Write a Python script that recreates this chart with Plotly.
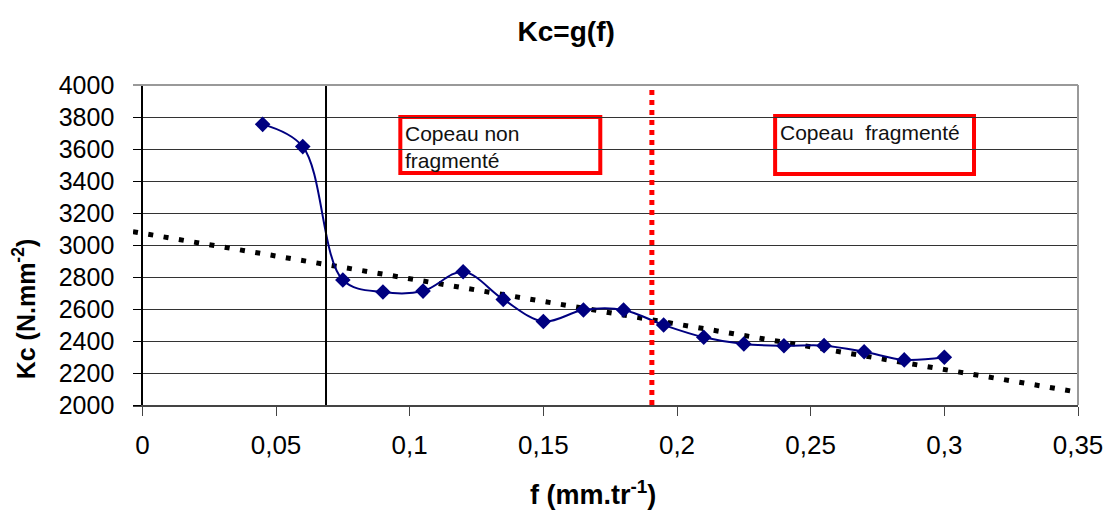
import plotly.graph_objects as go

# ---- data ----
f_vals = [0.045, 0.060, 0.075, 0.090, 0.105, 0.120, 0.135, 0.150, 0.165, 0.180,
          0.195, 0.210, 0.225, 0.240, 0.255, 0.270, 0.285, 0.300]
kc_vals = [3754, 3615, 2781, 2706, 2712, 2833, 2660, 2522, 2594, 2594,
           2500, 2423, 2381, 2370, 2371, 2333, 2282, 2298]

trend_f = [-0.0035, 0.35]
trend_kc = [3083, 2080]

limit_black_f = 0.0687
limit_red_f = 0.1906

x_ticks = [0, 0.05, 0.1, 0.15, 0.2, 0.25, 0.3, 0.35]
x_tick_labels = ["0", "0,05", "0,1", "0,15", "0,2", "0,25", "0,3", "0,35"]
y_ticks = [2000, 2200, 2400, 2600, 2800, 3000, 3200, 3400, 3600, 3800, 4000]

box1 = dict(x0=0.0965, x1=0.1713, y0=3450, y1=3800, text="Copeau non<br>fragmenté")
box2 = dict(x0=0.2367, x1=0.3111, y0=3444, y1=3806, text="Copeau  fragmenté")

x_range = [-0.0035, 0.35]
y_range = [2000, 4000]

FONT = "Liberation Sans, Arial, sans-serif"

fig = go.Figure()

fig.add_trace(go.Scatter(
    x=trend_f, y=trend_kc, mode="lines",
    line=dict(color="black", width=5, dash="5px,10.5px"),
    showlegend=False, hoverinfo="skip"))

fig.add_trace(go.Scatter(
    x=f_vals, y=kc_vals, mode="lines+markers",
    line=dict(color="#000080", width=2, shape="spline", smoothing=1.0),
    marker=dict(symbol="diamond", size=12, color="#000080"),
    showlegend=False))

shapes = [
    dict(type="line", xref="x", yref="y", x0=limit_black_f, x1=limit_black_f,
         y0=y_range[0], y1=y_range[1], line=dict(color="black", width=2)),
    dict(type="line", xref="x", yref="y", x0=limit_red_f, x1=limit_red_f,
         y0=y_range[0], y1=y_range[1], line=dict(color="#ff0000", width=5, dash="5px,5px")),
    # plot-area border (top & right)
    dict(type="line", xref="paper", yref="paper", x0=0, x1=1, y0=1, y1=1,
         line=dict(color="#999999", width=2)),
    dict(type="line", xref="paper", yref="paper", x0=1, x1=1, y0=0, y1=1,
         line=dict(color="#999999", width=2)),
]
annotations = []
for b in (box1, box2):
    shapes.append(dict(type="rect", xref="x", yref="y", x0=b["x0"], x1=b["x1"],
                       y0=b["y0"], y1=b["y1"], line=dict(color="#ff0000", width=4),
                       fillcolor="white", layer="below"))
    annotations.append(dict(xref="x", yref="y", x=b["x0"], y=b["y1"], text=b["text"],
                            showarrow=False, xanchor="left", yanchor="top", align="left",
                            xshift=3, yshift=-3,
                            font=dict(family=FONT, size=21, color="#111111")))

annotations.append(dict(xref="paper", yref="paper", x=-0.115, y=0.30, text="<b>Kc (N.mm<sup>-2</sup>)</b>",
                        textangle=-90, showarrow=False, xanchor="center", yanchor="middle",
                        font=dict(family=FONT, size=25, color="black")))
annotations.append(dict(xref="paper", yref="paper", x=0.487, y=-0.215, text="<b>f (mm.tr<sup>-1</sup>)</b>",
                        showarrow=False, xanchor="center", yanchor="top",
                        font=dict(family=FONT, size=27, color="black")))

fig.update_layout(
    width=1108, height=513,
    margin=dict(l=133, r=30, t=85, b=108, autoexpand=False),
    paper_bgcolor="white", plot_bgcolor="white",
    title=dict(text="<b>Kc=g(f)</b>", x=0.511, xanchor="center", y=0.94, yanchor="middle",
               font=dict(family=FONT, size=28, color="black")),
    shapes=shapes, annotations=annotations,
    xaxis=dict(range=x_range, tickvals=x_ticks, ticktext=x_tick_labels, automargin=False,
               showgrid=False, zeroline=False, showline=True, linecolor="#444444", linewidth=2,
               ticks="outside", ticklen=9, tickwidth=1, tickcolor="#444444",
               ticklabelstandoff=7,
               tickfont=dict(family=FONT, size=26, color="black")),
    yaxis=dict(range=y_range, tickvals=y_ticks, showgrid=True, gridcolor="#333333", gridwidth=1,
               automargin=False,
               zeroline=False, showline=True, linecolor="black", linewidth=2,
               anchor="free", position=(0 - x_range[0]) / (x_range[1] - x_range[0]),
               ticks="outside", ticklen=8, tickwidth=1, tickcolor="black",
               ticklabelstandoff=14,
               tickfont=dict(family=FONT, size=25, color="black")),
)

fig.write_html("out.html", config={"displayModeBar": False},
               post_script="document.body.style.margin='0px';")
